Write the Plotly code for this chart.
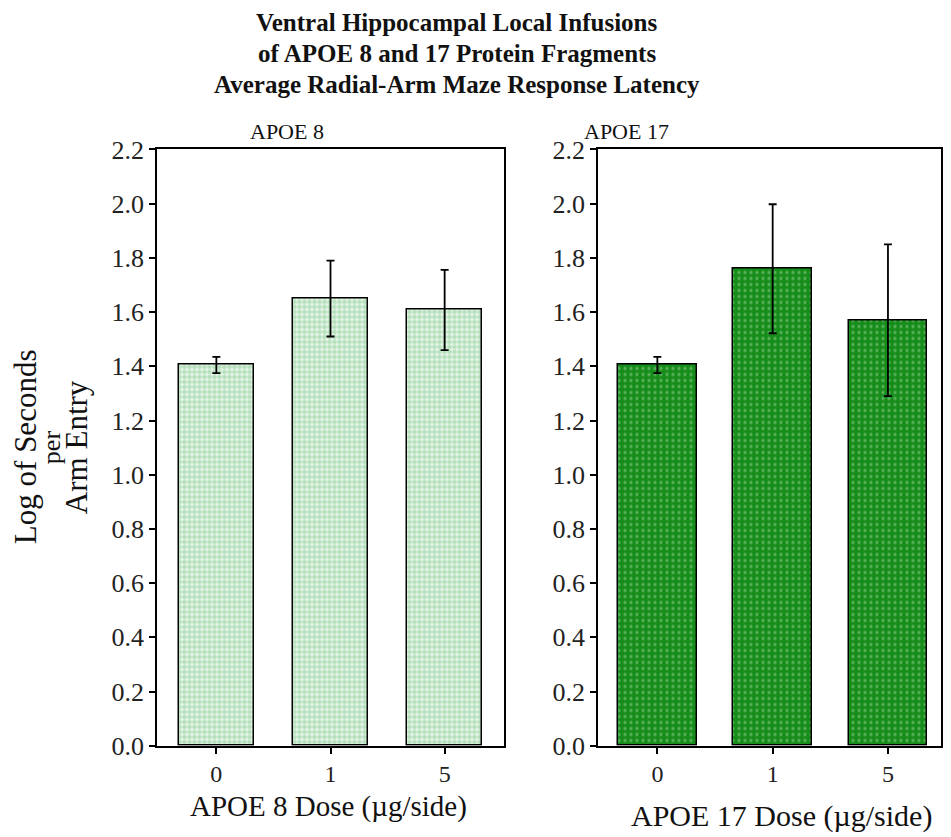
import plotly.graph_objects as go

doses = ["0", "1", "5"]
apoe8_mean = [1.405, 1.650, 1.608]
apoe8_sem = [0.030, 0.140, 0.148]
apoe17_mean = [1.405, 1.760, 1.570]
apoe17_sem = [0.030, 0.238, 0.280]
y_ticks = [0.0, 0.2, 0.4, 0.6, 0.8, 1.0, 1.2, 1.4, 1.6, 1.8, 2.0, 2.2]

W, H = 951, 837
FONT = "Liberation Serif"
xpos = list(range(len(doses)))

# compensation for page offset/scaling observed in the viewer
def X(x):
    return (x - 8) / W

def Y(y):
    return 1 - ((y - 18.5) / 0.973) / H

fig = go.Figure()
fig.add_trace(go.Bar(
    x=xpos, y=apoe8_mean, width=0.66, xaxis="x", yaxis="y",
    marker=dict(color="#e2f3e4", line=dict(color="black", width=1.5),
                pattern=dict(shape=".", fgcolor="#7fc98b", bgcolor="#eef8ef", size=5, solidity=0.7)),
    error_y=dict(type="data", array=apoe8_sem, color="black", thickness=1.8, width=4),
    showlegend=False))
fig.add_trace(go.Bar(
    x=xpos, y=apoe17_mean, width=0.68, xaxis="x2", yaxis="y2",
    marker=dict(color="#168c1a", line=dict(color="black", width=1.5),
                pattern=dict(shape=".", fgcolor="#98d598", bgcolor="#168c1a", size=6, solidity=0.25)),
    error_y=dict(type="data", array=apoe17_sem, color="black", thickness=1.8, width=4),
    showlegend=False))

ydom = [Y(748), Y(147)]
axis_common = dict(showline=True, linecolor="black", linewidth=1.5, mirror=True,
                   ticks="outside", ticklen=6, tickwidth=1.5, tickcolor="black",
                   showgrid=False, zeroline=False,
                   tickfont=dict(family=FONT, size=26, color="#222"))
xax = dict(axis_common, tickvals=xpos, ticktext=doses,
           tickfont=dict(family=FONT, size=24, color="#222"))
yax = dict(axis_common, range=[0, 2.2], tickvals=y_ticks, tickformat=".1f")

fig.update_layout(
    width=W, height=H, margin=dict(l=0, r=0, t=0, b=0),
    plot_bgcolor="white", paper_bgcolor="white", bargap=0,
    xaxis=dict(xax, range=[-0.52, 2.52], domain=[X(157), X(504)], anchor="y"),
    yaxis=dict(yax, domain=ydom, anchor="x"),
    xaxis2=dict(xax, range=[-0.515, 2.46], domain=[X(598), X(941)], anchor="y2"),
    yaxis2=dict(yax, domain=ydom, anchor="x2"),
)

def ann(text, x, y, size, bold=False, angle=0):
    t = f"<b>{text}</b>" if bold else text
    fig.add_annotation(text=t, x=X(x), y=Y(y), xref="paper", yref="paper",
                       showarrow=False, xanchor="center", yanchor="middle", textangle=angle,
                       font=dict(family=FONT, size=size, color="#111"))

ann("Ventral Hippocampal Local Infusions", 457, 19, 25, bold=True)
ann("of APOE 8 and 17 Protein Fragments", 457, 50, 25, bold=True)
ann("Average Radial-Arm Maze Response Latency", 457, 81, 25, bold=True)
ann("APOE 8", 287, 129, 22)
ann("APOE 17", 626, 129, 22)
ann("Log of Seconds", 25, 447, 31, angle=-90)
ann("per", 51, 447, 26, angle=-90)
ann("Arm Entry", 76, 447, 31, angle=-90)
ann("APOE 8 Dose (µg/side)", 328, 809, 29)
ann("APOE 17 Dose (µg/side)", 781, 819, 30)

fig.write_html("out.html")
